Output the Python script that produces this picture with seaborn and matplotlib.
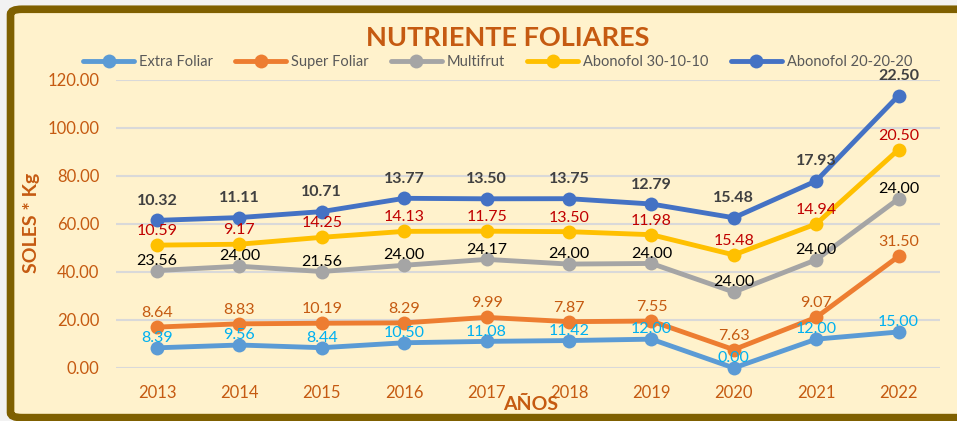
import numpy as np
import pandas as pd
import matplotlib.pyplot as plt
import seaborn as sns
from matplotlib.patches import FancyBboxPatch

years = [2013, 2014, 2015, 2016, 2017, 2018, 2019, 2020, 2021, 2022]
extra_foliar = [8.39, 9.56, 8.44, 10.50, 11.08, 11.42, 12.00, 0.00, 12.00, 15.00]
super_foliar = [8.64, 8.83, 10.19, 8.29, 9.99, 7.87, 7.55, 7.63, 9.07, 31.50]
multifrut = [23.56, 24.00, 21.56, 24.00, 24.17, 24.00, 24.00, 24.00, 24.00, 24.00]
abonofol_30 = [10.59, 9.17, 14.25, 14.13, 11.75, 13.50, 11.98, 15.48, 14.94, 20.50]
abonofol_20 = [10.32, 11.11, 10.71, 13.77, 13.50, 13.75, 12.79, 15.48, 17.93, 22.50]

series_names = ['Extra Foliar', 'Super Foliar', 'Multifrut', 'Abonofol 30-10-10', 'Abonofol 20-20-20']
series_vals = [extra_foliar, super_foliar, multifrut, abonofol_30, abonofol_20]
line_colors = ['#5B9BD5', '#ED7D31', '#A5A5A5', '#FFC000', '#4472C4']
label_colors = ['#00B0F0', '#C55A11', '#000000', '#C00000', '#404040']
label_offsets = [2, 5, 2, 5, 9]  # points above the marker
label_weights = ['normal', 'normal', 'normal', 'normal', 'bold']

# stacked lines: each line is the running total
stacked = np.cumsum(np.array(series_vals), axis=0)
rows = []
for name, vals in zip(series_names, stacked):
    for yr, v in zip(years, vals):
        rows.append({'year': yr, 'serie': name, 'total': v})
df = pd.DataFrame(rows)

sns.set_style('white')
plt.rcParams['font.family'] = ['Lato', 'DejaVu Sans']

bg = '#FFF2CC'
brown = '#C55A11'
fig = plt.figure(figsize=(9.57, 4.21), dpi=100, facecolor='#F2F2F2')
frame = FancyBboxPatch((0.011, 0.008), 1.2, 0.97, boxstyle='round,pad=0,rounding_size=0.012',
                       transform=fig.transFigure, facecolor=bg, edgecolor='#7F6000',
                       linewidth=5.5, zorder=-10)
fig.patches.append(frame)

ax = fig.add_axes([0.121, 0.126, 0.861, 0.684])
ax.set_facecolor('none')

sns.lineplot(data=df, x='year', y='total', hue='serie', hue_order=series_names,
             palette=line_colors, marker='o', markersize=10, markeredgewidth=0,
             linewidth=3.5, ax=ax, clip_on=False)

for vals, tots, c, off, w in zip(series_vals, stacked, label_colors, label_offsets, label_weights):
    for yr, v, t in zip(years, vals, tots):
        ax.annotate(f'{v:.2f}', (yr, t), xytext=(0, off), textcoords='offset points',
                    ha='center', va='bottom', color=c, fontsize=11.5, fontweight=w)

ax.set_xlim(2012.5, 2022.5)
ax.set_ylim(0, 120)
ax.set_yticks(np.arange(0, 121, 20))
ax.set_yticklabels([f'{t:.2f}' for t in np.arange(0, 121, 20)])
ax.set_xticks(years)
ax.set_xticklabels([str(y) for y in years])
ax.tick_params(axis='both', colors=brown, labelsize=12, length=0)
ax.tick_params(axis='x', pad=12)
ax.tick_params(axis='y', pad=12)
ax.grid(axis='y', color='#D9D9D9', linewidth=1.5)
ax.set_axisbelow(True)
for s in ax.spines.values():
    s.set_visible(False)
ax.set_xlabel('')
ax.set_ylabel('')

fig.text(0.53, 0.91, 'NUTRIENTE FOLIARES', ha='center', va='center', color=brown,
         fontsize=19.5, fontweight='bold')
fig.text(0.033, 0.47, 'SOLES * Kg', ha='center', va='center', rotation=90, color=brown,
         fontsize=14, fontweight='bold')
fig.text(0.555, 0.04, 'AÑOS', ha='center', va='center', color=brown,
         fontsize=14, fontweight='bold')

handles, labels = ax.get_legend_handles_labels()
ax.legend_.remove()
fig.legend(handles, labels, loc='center', bbox_to_anchor=(0.52, 0.852), ncol=5, frameon=False,
           fontsize=10.5, labelcolor='#595959', handlelength=3.5, columnspacing=1.5,
           handletextpad=0.35)

fig.savefig('out.png', dpi=100, facecolor=fig.get_facecolor())
